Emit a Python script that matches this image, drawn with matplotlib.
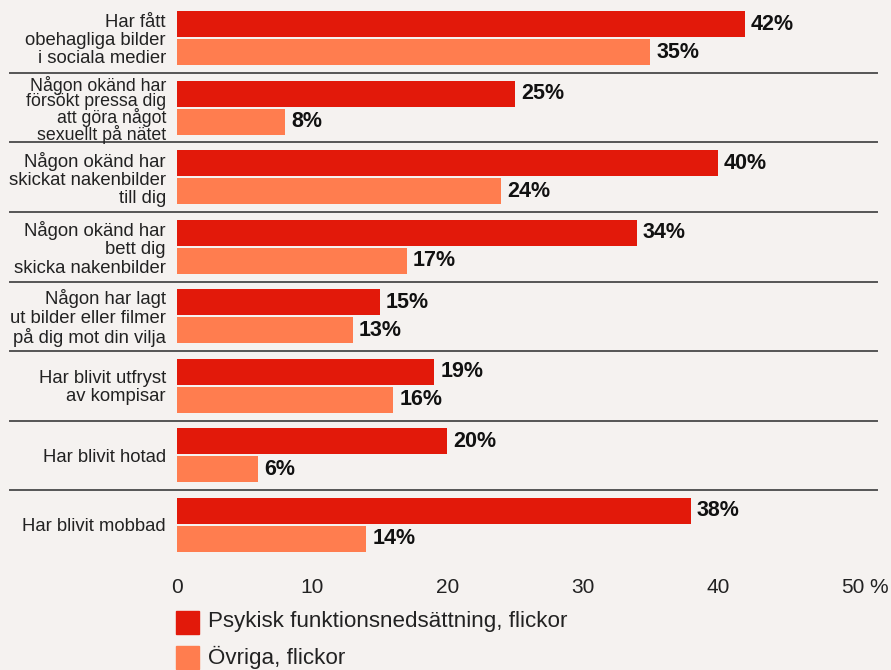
import matplotlib.pyplot as plt
import numpy as np

categories = [
    "Har fått\nobehagliga bilder\ni sociala medier",
    "Någon okänd har\nförsökt pressa dig\natt göra något\nsexuellt på nätet",
    "Någon okänd har\nskickat nakenbilder\ntill dig",
    "Någon okänd har\nbett dig\nskicka nakenbilder",
    "Någon har lagt\nut bilder eller filmer\npå dig mot din vilja",
    "Har blivit utfryst\nav kompisar",
    "Har blivit hotad",
    "Har blivit mobbad",
]
psykisk = [42, 25, 40, 34, 15, 19, 20, 38]
ovriga = [35, 8, 24, 17, 13, 16, 6, 14]
series_names = ["Psykisk funktionsnedsättning, flickor", "Övriga, flickor"]
xticks = [0, 10, 20, 30, 40, 50]

bg = "#f5f2f0"
red = "#e2190a"
orange = "#ff7d4f"

plt.rcParams["font.family"] = ["Liberation Sans", "DejaVu Sans"]

fig = plt.figure(figsize=(8.91, 6.70), dpi=100, facecolor=bg)
ax = fig.add_axes([177 / 891, 1 - 563 / 670, (853 - 177) / 891, 563 / 670])
ax.set_facecolor(bg)

y = np.arange(len(categories))
h = 0.374
off = 0.201
ax.barh(y - off, psykisk, height=h, color=red)
ax.barh(y + off, ovriga, height=h, color=orange)

for yi, v in zip(y, psykisk):
    ax.annotate(f"{v}%", (v, yi - off), xytext=(4.5, 0), textcoords="offset points",
                va="center", ha="left", fontsize=15.5, fontweight="bold", color="#111111")
for yi, v in zip(y, ovriga):
    ax.annotate(f"{v}%", (v, yi + off), xytext=(4.5, 0), textcoords="offset points",
                va="center", ha="left", fontsize=15.5, fontweight="bold", color="#111111")

# separators between groups, running past the axes on both sides
trans = ax.get_yaxis_transform()
for i in range(len(categories) - 1):
    ax.plot([-167 / 676, 700 / 676], [i + 0.5, i + 0.5], transform=trans,
            color="#555555", lw=1.4, clip_on=False)

# category labels, right-aligned next to the bars
for yi, cat in zip(y, categories):
    long_lbl = cat.count("\n") >= 3
    ax.annotate(cat, (0, yi), xycoords=trans, xytext=(-8, -1.5), textcoords="offset points",
                ha="right", va="center", multialignment="right",
                linespacing=0.86 if long_lbl else 1.1,
                fontsize=12.8 if long_lbl else 13.3, color="#222222")

ax.set_xlim(0, 50)
ax.set_ylim(len(categories) - 0.45, -0.55)
ax.set_yticks([])
ax.set_xticks(xticks)
ax.set_xticklabels([str(t) for t in xticks], fontsize=15, color="#222222")
ax.annotate("%", (50, 0), xycoords=("data", "axes fraction"), xytext=(12, -11),
            textcoords="offset points", ha="left", va="top", fontsize=15, color="#222222")
ax.tick_params(axis="both", length=0)
ax.tick_params(axis="x", pad=11)
for s in ax.spines.values():
    s.set_visible(False)

# legend drawn by hand below the axis labels
for k, (name, col) in enumerate(zip(series_names, [red, orange])):
    yc = 1 - (622 + 35 * k) / 670
    fig.patches.append(plt.Rectangle((176 / 891, yc - 11.5 / 670), 23 / 891, 23 / 670,
                                     transform=fig.transFigure, color=col))
    fig.text(208 / 891, yc, name, fontsize=16.1, va="center", ha="left", color="#222222")

fig.savefig("out.png", facecolor=bg)
